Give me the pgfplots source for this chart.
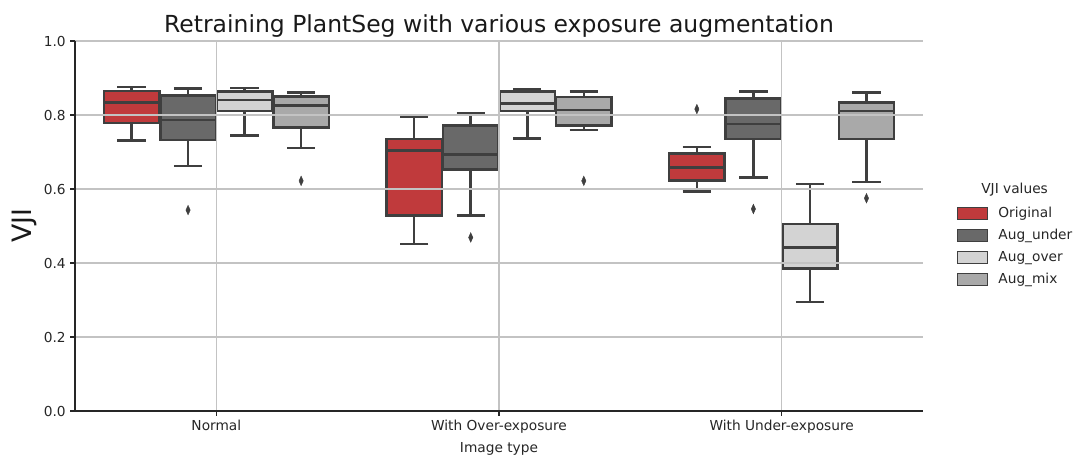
\documentclass[border=0pt]{standalone}
\usepackage{fontspec}
\setmainfont{DejaVu Sans}
\usepackage{pgfplots}
\pgfplotsset{compat=1.18}
\usepgfplotslibrary{statistics}

\definecolor{cred}{RGB}{192,58,60}
\definecolor{cdark}{RGB}{105,105,105}
\definecolor{clight}{RGB}{211,211,211}
\definecolor{cmix}{RGB}{169,169,169}
\definecolor{edgegray}{RGB}{63,63,63}
\definecolor{gridgray}{RGB}{195,195,195}

\pgfplotsset{
    vjibox/.style={
        forget plot,
        draw=edgegray, fill=#1,
        line width=1.9pt,
        mark=diamond*, mark size=3.6pt,
        mark options={draw=edgegray, fill=edgegray, line width=0.3pt, xscale=0.6},
        boxplot/draw direction=y,
        boxplot/box extend=0.196,
        boxplot/whisker extend=0.1,
    },
}

\begin{document}
\begin{tikzpicture}
\begin{axis}[
    at={(0,0)}, anchor=south west,
    scale only axis,
    width=636pt, height=277.5pt,
    xmin=-0.5, xmax=2.5,
    ymin=0, ymax=1,
    clip mode=individual,
    axis x line*=bottom,
    axis y line*=left,
    axis line style={line width=0.9pt, black!85},
    xtick={0,1,2},
    xticklabels={Normal, With Over-exposure, With Under-exposure},
    ytick={0,0.2,0.4,0.6,0.8,1.0},
    yticklabel style={/pgf/number format/fixed, /pgf/number format/fixed zerofill, /pgf/number format/precision=1},
    /pgf/number format/assume math mode=true,
    tick align=outside,
    major tick length=3.5pt,
    tick style={line width=0.9pt, black!85},
    ticklabel style={font=\fontsize{10.3}{12}\selectfont, text=black!85},
    grid=major,
    major grid style={line width=0.8pt, gridgray},
    axis on top,
    title={Retraining PlantSeg with various exposure augmentation},
    title style={font=\fontsize{17.6}{21}\selectfont, text=black!90, at={(0.5,1)}, anchor=south, yshift=-7pt},
    ylabel={VJI},
    ylabel style={font=\fontsize{20}{24}\selectfont, text=black!90, yshift=-2pt},
    xlabel={Image type},
    xlabel style={font=\fontsize{10.3}{12}\selectfont, text=black!85, yshift=0pt},
    legend style={at={(rel axis cs:1.035,0.566)}, anchor=north west, draw=none, fill=none,
        font=\fontsize{10.3}{12}\selectfont, text=black!85, row sep=3.2pt, column sep=6pt},
    legend cell align=left,
    legend image code/.code={\draw[#1, line width=0.6pt, draw=edgegray] (0pt,-4.6pt) rectangle (22.5pt,4.6pt);},
]
% Normal
\addplot[vjibox=cred, boxplot prepared={draw position=-0.3,
    lower whisker=0.731, lower quartile=0.778, median=0.834, upper quartile=0.865, upper whisker=0.876}]
    coordinates {};
\addplot[vjibox=cdark, boxplot prepared={draw position=-0.1,
    lower whisker=0.662, lower quartile=0.732, median=0.786, upper quartile=0.852, upper whisker=0.872}]
    coordinates {(0,0.543)};
\addplot[vjibox=clight, boxplot prepared={draw position=0.1,
    lower whisker=0.744, lower quartile=0.811, median=0.840, upper quartile=0.864, upper whisker=0.873}]
    coordinates {};
\addplot[vjibox=cmix, boxplot prepared={draw position=0.3,
    lower whisker=0.711, lower quartile=0.766, median=0.826, upper quartile=0.850, upper whisker=0.861}]
    coordinates {(0,0.622)};
% With Over-exposure
\addplot[vjibox=cred, boxplot prepared={draw position=0.7,
    lower whisker=0.451, lower quartile=0.528, median=0.704, upper quartile=0.735, upper whisker=0.796}]
    coordinates {};
\addplot[vjibox=cdark, boxplot prepared={draw position=0.9,
    lower whisker=0.528, lower quartile=0.653, median=0.693, upper quartile=0.772, upper whisker=0.805}]
    coordinates {(0,0.469)};
\addplot[vjibox=clight, boxplot prepared={draw position=1.1,
    lower whisker=0.736, lower quartile=0.811, median=0.831, upper quartile=0.864, upper whisker=0.869}]
    coordinates {};
\addplot[vjibox=cmix, boxplot prepared={draw position=1.3,
    lower whisker=0.759, lower quartile=0.772, median=0.813, upper quartile=0.849, upper whisker=0.864}]
    coordinates {(0,0.622)};
% With Under-exposure
\addplot[vjibox=cred, boxplot prepared={draw position=1.7,
    lower whisker=0.593, lower quartile=0.623, median=0.658, upper quartile=0.696, upper whisker=0.713}]
    coordinates {(0,0.816)};
\addplot[vjibox=cdark, boxplot prepared={draw position=1.9,
    lower whisker=0.631, lower quartile=0.735, median=0.776, upper quartile=0.844, upper whisker=0.864}]
    coordinates {(0,0.546)};
\addplot[vjibox=clight, boxplot prepared={draw position=2.1,
    lower whisker=0.294, lower quartile=0.385, median=0.442, upper quartile=0.505, upper whisker=0.613}]
    coordinates {};
\addplot[vjibox=cmix, boxplot prepared={draw position=2.3,
    lower whisker=0.619, lower quartile=0.735, median=0.811, upper quartile=0.834, upper whisker=0.861}]
    coordinates {(0,0.575)};

\addlegendimage{fill=cred}\addlegendentry{Original}
\addlegendimage{fill=cdark}\addlegendentry{Aug\_under}
\addlegendimage{fill=clight}\addlegendentry{Aug\_over}
\addlegendimage{fill=cmix}\addlegendentry{Aug\_mix}

\node[font=\fontsize{10.3}{12}\selectfont, text=black!85] at (rel axis cs:1.108,0.597) {VJI values};
\end{axis}
\pgfresetboundingbox
\path[use as bounding box] (-56.25pt,-33pt) rectangle (753pt,308.25pt);
\end{tikzpicture}
\end{document}
